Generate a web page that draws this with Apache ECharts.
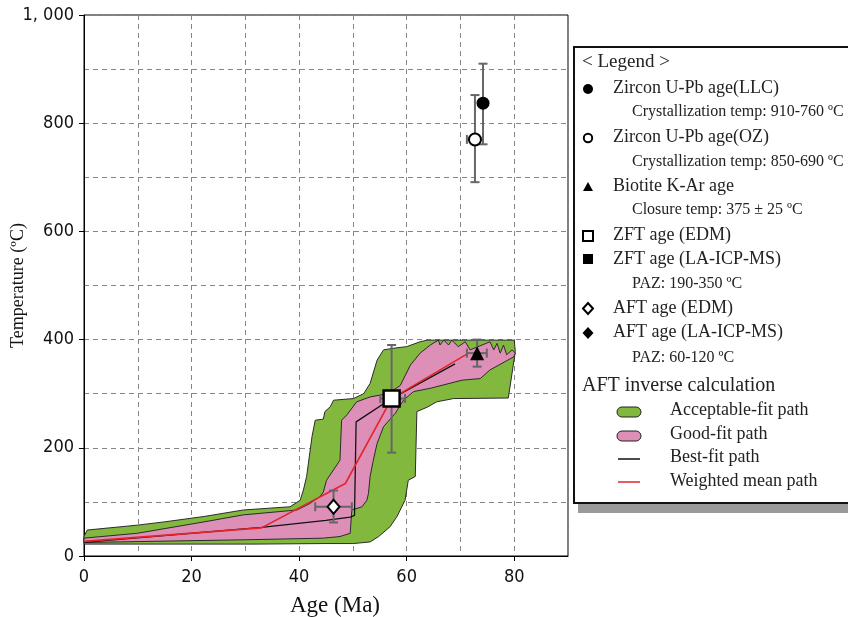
<!DOCTYPE html>
<html><head><meta charset="utf-8">
<script src="https://cdn.jsdelivr.net/npm/echarts@6/dist/echarts.min.js"></script>
<style>html,body{margin:0;padding:0;background:#fff}#c{width:848px;height:617px}</style>
</head><body><div id="c"></div>
<script>
// ---- data ----
const xTickValues = [0, 20, 40, 60, 80];
const yTickValues = [0, 200, 400, 600, 800, 1000];

// Acceptable-fit envelope (age Ma, temperature °C)
const acceptableFit = [
  [0,22],[0,36],[0.6,48],[9.9,57],[14.9,63],[22.3,73],[29.6,85],[38.3,91],[40.2,103],[40.8,122],
  [41.4,147],[42.4,221],[43.0,251],[44.5,253],[44.8,267],[45.8,276],[46.4,288],[50.1,291],[52.0,300],
  [53.2,319],[54.5,362],[55.7,381],[57.5,384],[60.0,387],[62.5,396],[63.8,399],[80.0,399],[80.2,378],
  [79.6,338],[78.9,292],[68.7,291],[65.6,285],[63.8,275],[61.9,267],[61.6,147],[60.3,140],[59.7,103],
  [58.2,73],[56.9,54],[54.8,36],[53.2,26],[50.1,23],[44.8,23],[31.4,22]
];
// Good-fit envelope
const goodFit = [
  [0,25],[0,33],[9.9,42],[22.3,63],[29.6,76],[39.6,85],[42.0,97],[43.9,110],[44.5,118],[45.1,140],
  [47.6,177],[47.9,251],[48.9,261],[50.7,285],[53.2,294],[56.5,300],[58.8,315],[60.7,353],[62.5,375],
  [64.4,390],[65.9,399],[66.2,390],[66.9,399],[67.8,390],[68.4,399],[69.6,387],[70.9,396],[71.8,381],
  [75.5,396],[76.2,381],[76.8,393],[77.4,375],[78.0,390],[78.6,372],[79.6,381],[80.2,375],[79.9,368],
  [75.5,344],[73.7,328],[70.3,325],[64.4,310],[61.3,304],[59.4,288],[57.9,264],[55.7,239],[54.5,208],
  [53.8,177],[53.2,147],[52.9,116],[52.6,103],[51.7,91],[49.8,85],[49.5,42],[47.6,36],[44.5,33],[30,30]
];
const bestFit = [[0,25],[33,53],[45,66],[49.5,72],[50.3,75],[50.6,248],[57.2,291],[69,355]];
const weightedMean = [[0,27],[33,52],[48.6,134],[57.2,291],[71.5,375]];

// Age data: [age, temp, ageLow, ageHigh, tempLow, tempHigh]
const zirconLLC = [[74.2, 837, 74.2, 74.2, 761, 910]];
const zirconOZ  = [[72.7, 770, 71.2, 74.2, 691, 852]];
const biotiteKAr = [[73.1, 375, 71.2, 74.9, 350, 400]];
const zftEDM = [[57.2, 291, 55.1, 59.7, 191, 390]];
const aftEDM = [[46.4, 91, 43.0, 49.8, 62, 121]];

// ---- chart ----
const chart = echarts.init(document.getElementById('c'), null, {renderer: 'canvas'});
const serif = "'Liberation Serif','Times New Roman',serif";
const narrow = "'Liberation Sans Narrow','DejaVu Sans Condensed','Arial Narrow',sans-serif";
const gridLine = {show: true, lineStyle: {color: '#858585', type: [5, 4], width: 1}};

function polygonSeries(points, fill) {
  return {
    type: 'custom', data: points, encode: {x: 0, y: 1}, z: 2, silent: true,
    renderItem: function (params, api) {
      if (params.dataIndex !== 0) return null;
      const pts = points.map(p => api.coord(p));
      return {type: 'polygon', shape: {points: pts},
        style: {fill: fill, stroke: '#2b2b2b', lineWidth: 1}};
    }
  };
}
function errorSeries(data) {
  return {
    type: 'custom', data: data, encode: {x: 0, y: 1}, z: 5, silent: true,
    renderItem: function (params, api) {
      const x = api.value(0), y = api.value(1);
      const xl = api.value(2), xh = api.value(3), yl = api.value(4), yh = api.value(5);
      const st = {stroke: '#666', lineWidth: 2};
      const c = 4.5, kids = [];
      if (yl !== yh) {
        const a = api.coord([x, yl]), b = api.coord([x, yh]);
        kids.push({type: 'line', shape: {x1: a[0], y1: a[1], x2: b[0], y2: b[1]}, style: st});
        kids.push({type: 'line', shape: {x1: a[0]-c, y1: a[1], x2: a[0]+c, y2: a[1]}, style: st});
        kids.push({type: 'line', shape: {x1: b[0]-c, y1: b[1], x2: b[0]+c, y2: b[1]}, style: st});
      }
      if (xl !== xh) {
        const a = api.coord([xl, y]), b = api.coord([xh, y]);
        kids.push({type: 'line', shape: {x1: a[0], y1: a[1], x2: b[0], y2: b[1]}, style: st});
        kids.push({type: 'line', shape: {x1: a[0], y1: a[1]-c, x2: a[0], y2: a[1]+c}, style: st});
        kids.push({type: 'line', shape: {x1: b[0], y1: b[1]-c, x2: b[0], y2: b[1]+c}, style: st});
      }
      return {type: 'group', children: kids};
    }
  };
}
function pointSeries(data, symbol, size, fill, border) {
  return {
    type: 'scatter', data: data.map(d => [d[0], d[1]]), symbol: symbol, symbolSize: size, z: 6,
    itemStyle: {color: fill, borderColor: '#000', borderWidth: border, opacity: 1}
  };
}

// legend (drawn as graphics)
const LX = 588, TX = 613, SX = 632, M = 18, S = 16;
const t = (x, y, s, size) => ({type: 'text', x: x, y: y,
  style: {text: s, font: size + 'px ' + serif, fill: '#222', textVerticalAlign: 'middle'}});
const legend = [
  {type: 'rect', shape: {x: 578, y: 52, width: 280, height: 461}, style: {fill: '#9a9a9a'}},
  {type: 'rect', shape: {x: 574, y: 47, width: 290, height: 456}, style: {fill: '#fff', stroke: '#111', lineWidth: 2}},
  t(582, 62, '< Legend >', 19),
  {type: 'circle', shape: {cx: LX, cy: 89, r: 5}, style: {fill: '#000'}},
  t(TX, 88, 'Zircon U-Pb age(LLC)', M),
  t(SX, 112, 'Crystallization temp: 910-760 ºC', S),
  {type: 'circle', shape: {cx: LX, cy: 138, r: 4.2}, style: {fill: '#fff', stroke: '#000', lineWidth: 2}},
  t(TX, 137, 'Zircon U-Pb age(OZ)', M),
  t(SX, 162, 'Crystallization temp: 850-690 ºC', S),
  {type: 'polygon', shape: {points: [[LX, 182], [LX+5, 191], [LX-5, 191]]}, style: {fill: '#000'}},
  t(TX, 186, 'Biotite K-Ar age', M),
  t(SX, 210, 'Closure temp: 375 ± 25 ºC', S),
  {type: 'rect', shape: {x: LX-5, y: 231, width: 10, height: 10}, style: {fill: '#fff', stroke: '#000', lineWidth: 2}},
  t(TX, 235, 'ZFT age (EDM)', M),
  {type: 'rect', shape: {x: LX-5, y: 254, width: 10, height: 10}, style: {fill: '#000'}},
  t(TX, 259, 'ZFT age (LA-ICP-MS)', M),
  t(SX, 284, 'PAZ: 190-350 ºC', S),
  {type: 'polygon', shape: {points: [[LX, 303], [LX+5, 308.5], [LX, 314], [LX-5, 308.5]]}, style: {fill: '#fff', stroke: '#000', lineWidth: 2}},
  t(TX, 308, 'AFT age (EDM)', M),
  {type: 'polygon', shape: {points: [[LX, 327], [LX+5.5, 333], [LX, 339], [LX-5.5, 333]]}, style: {fill: '#000'}},
  t(TX, 332, 'AFT age (LA-ICP-MS)', M),
  t(SX, 358, 'PAZ: 60-120 ºC', S),
  t(582, 386, 'AFT inverse calculation', 20),
  {type: 'rect', shape: {x: 617, y: 407, width: 24, height: 10, r: 5}, style: {fill: '#82b83e', stroke: '#222', lineWidth: 1}},
  t(670, 410, 'Acceptable-fit path', M),
  {type: 'rect', shape: {x: 617, y: 431, width: 24, height: 10, r: 5}, style: {fill: '#dd8fb8', stroke: '#222', lineWidth: 1}},
  t(670, 434, 'Good-fit path', M),
  {type: 'line', shape: {x1: 618, y1: 459, x2: 640, y2: 459}, style: {stroke: '#111', lineWidth: 1.5}},
  t(670, 457, 'Best-fit path', M),
  {type: 'line', shape: {x1: 618, y1: 482, x2: 640, y2: 482}, style: {stroke: '#e0262b', lineWidth: 1.5}},
  t(670, 481, 'Weighted mean path', M)
];

chart.setOption({
  animation: false,
  backgroundColor: '#fff',
  grid: {left: 84, top: 15, right: 280, bottom: 61, show: true, borderColor: '#000', borderWidth: 1,
    backgroundColor: 'transparent', containLabel: false, outerBoundsMode: 'none'},
  xAxis: [{
    type: 'value', min: 0, max: 90, interval: 10,
    name: 'Age (Ma)', nameLocation: 'middle', nameGap: 38, nameMoveOverlap: false,
    nameTextStyle: {fontFamily: serif, fontSize: 23, color: '#111', padding: [0, 0, 0, 18]},
    axisLine: {show: true, lineStyle: {color: '#000', width: 1}},
    axisTick: {show: false},
    axisLabel: {customValues: xTickValues, fontFamily: narrow, fontSize: 18, color: '#111', margin: 12},
    splitLine: gridLine
  }, {
    type: 'value', min: 0, max: 90, interval: 20, position: 'bottom',
    axisLine: {show: false}, axisLabel: {show: false}, splitLine: {show: false},
    axisTick: {show: true, customValues: xTickValues, length: 5, lineStyle: {color: '#000'}}
  }],
  yAxis: [{
    type: 'value', min: 0, max: 1000, interval: 100,
    name: 'Temperature (ºC)', nameLocation: 'middle', nameGap: 57, nameRotate: 90, nameMoveOverlap: false,
    nameTextStyle: {fontFamily: serif, fontSize: 18, color: '#111'},
    axisLine: {show: true, lineStyle: {color: '#000', width: 1}},
    axisTick: {show: false},
    axisLabel: {customValues: yTickValues, fontFamily: narrow, fontSize: 18, color: '#111', margin: 10,
      formatter: v => v === 1000 ? '1, 000' : String(v)},
    splitLine: gridLine
  }, {
    type: 'value', min: 0, max: 1000, interval: 200, position: 'left',
    axisLine: {show: false}, axisLabel: {show: false}, splitLine: {show: false},
    axisTick: {show: true, customValues: yTickValues, length: 5, lineStyle: {color: '#000'}}
  }],
  graphic: legend,
  series: [
    polygonSeries(acceptableFit, '#82b83e'),
    polygonSeries(goodFit, '#dd8fb8'),
    {type: 'line', data: bestFit, symbol: 'none', z: 3, lineStyle: {color: '#111', width: 1.3}},
    {type: 'line', data: weightedMean, symbol: 'none', z: 4, lineStyle: {color: '#e0262b', width: 1.6}},
    errorSeries(zirconOZ), errorSeries(zirconLLC), errorSeries(biotiteKAr), errorSeries(zftEDM), errorSeries(aftEDM),
    pointSeries(zirconLLC, 'circle', 13, '#000', 0),
    pointSeries(zirconOZ, 'circle', 12, '#fff', 2),
    pointSeries(biotiteKAr, 'triangle', 14, '#000', 0),
    pointSeries(zftEDM, 'rect', 16, '#fff', 2.5),
    pointSeries(aftEDM, 'diamond', [12, 14], '#fff', 2)
  ]
});
</script></body></html>
